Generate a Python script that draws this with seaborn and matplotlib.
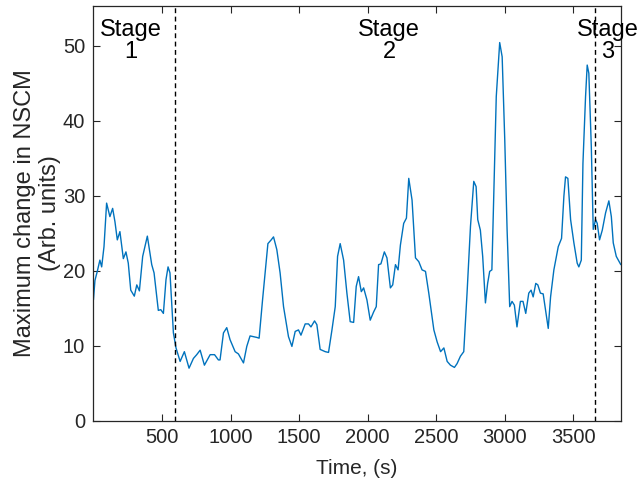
import numpy as np
import pandas as pd
import matplotlib
matplotlib.use("Agg")
import matplotlib.pyplot as plt
import seaborn as sns

# ---- data ----
time_s = [0, 11, 28, 47, 60, 77, 96, 120, 140, 157, 174, 193, 218, 237, 254, 272, 298, 316, 335, 359,
          393, 425, 442, 473, 491, 510, 529, 544, 558, 583, 602, 632, 663, 697, 729, 753, 778, 809, 851, 883,
          911, 923, 948, 972, 996, 1033, 1057, 1094, 1118, 1142, 1167, 1191, 1208, 1233, 1272, 1296, 1313, 1337, 1361, 1386,
          1422, 1447, 1471, 1495, 1513, 1544, 1568, 1586, 1612, 1629, 1653, 1690, 1714, 1739, 1763, 1780, 1799, 1824, 1848, 1872,
          1897, 1916, 1933, 1953, 1970, 1994, 2018, 2043, 2062, 2079, 2096, 2121, 2140, 2165, 2182, 2202, 2221, 2238, 2262, 2282,
          2299, 2323, 2348, 2372, 2396, 2421, 2445, 2482, 2506, 2531, 2555, 2579, 2603, 2632, 2651, 2676, 2700, 2724, 2749, 2773,
          2790, 2802, 2821, 2838, 2858, 2874, 2889, 2905, 2922, 2937, 2962, 2980, 2999, 3016, 3035, 3052, 3069, 3088, 3113, 3132,
          3152, 3174, 3191, 3206, 3225, 3240, 3259, 3279, 3296, 3316, 3333, 3357, 3389, 3413, 3430, 3442, 3459, 3479, 3503, 3527,
          3539, 3557, 3569, 3588, 3600, 3612, 3630, 3644, 3661, 3673, 3690, 3710, 3734, 3758, 3776, 3790, 3812, 3845]
nscm_change = [16.1, 18.7, 19.9, 21.4, 20.5, 23.2, 29.0, 27.2, 28.3, 26.5, 24.1, 25.2, 21.6, 22.5, 21.0, 17.4, 16.6, 18.1, 17.3, 21.9,
               24.6, 20.8, 19.7, 14.7, 14.8, 14.3, 18.8, 20.5, 19.7, 11.7, 9.7, 7.9, 9.2, 7.0, 8.3, 8.8, 9.4, 7.4, 8.8, 8.8,
               8.1, 8.1, 11.7, 12.4, 10.8, 9.2, 8.9, 7.7, 9.9, 11.3, 11.2, 11.1, 11.0, 16.1, 23.6, 24.1, 24.5, 22.8, 19.7, 15.2,
               11.2, 9.9, 11.9, 12.1, 11.4, 12.9, 12.9, 12.5, 13.3, 12.8, 9.5, 9.2, 9.1, 12.1, 15.2, 21.9, 23.6, 21.4, 17.0, 13.2,
               13.1, 17.9, 19.2, 17.2, 17.7, 16.1, 13.4, 14.5, 15.2, 20.8, 20.9, 22.5, 21.7, 17.7, 18.1, 20.8, 20.1, 23.4, 26.3, 27.0,
               32.3, 29.4, 21.7, 21.2, 20.1, 19.9, 17.0, 12.1, 10.5, 9.2, 9.7, 7.9, 7.4, 7.1, 7.6, 8.6, 9.2, 17.0, 25.9, 31.9,
               31.2, 26.8, 25.4, 21.9, 15.7, 18.3, 19.9, 20.1, 32.5, 43.2, 50.4, 48.5, 37.4, 25.4, 15.2, 15.9, 15.4, 12.5, 15.9, 15.9,
               14.3, 17.0, 17.4, 16.5, 18.3, 18.1, 17.0, 16.9, 14.8, 12.3, 16.5, 20.1, 23.2, 24.3, 29.9, 32.5, 32.3, 26.8, 23.7, 21.0,
               20.5, 21.4, 34.3, 43.2, 47.4, 46.3, 36.5, 25.5, 26.8, 26.3, 24.1, 25.4, 27.7, 29.3, 27.2, 23.7, 21.9, 20.8]
stage_bounds = [595, 3660]
stage_labels = ["Stage\n1", "Stage\n2", "Stage\n3"]
stage_label_x = [275, 2157, 3750]
x_ticks = [500, 1000, 1500, 2000, 2500, 3000, 3500]
y_ticks = [0, 10, 20, 30, 40, 50]

df = pd.DataFrame({"Time": time_s, "NSCM": nscm_change})

sns.set_style("white")
plt.rcParams["font.family"] = ["Liberation Sans", "DejaVu Sans"]
dark = "#262626"

fig = plt.figure(figsize=(6.4, 4.83), dpi=100)
ax = fig.add_axes([0.146, 0.129, 0.824, 0.859])

sns.lineplot(data=df, x="Time", y="NSCM", ax=ax, color="#0072BD", linewidth=1.0)

for xb in stage_bounds:
    ax.axvline(xb, color="black", linestyle=(0, (3.5, 2.5)), linewidth=1.0)

for lab, xp in zip(stage_labels, stage_label_x):
    ax.text(xp, 53.5, lab, ha="center", va="top", fontsize=17, color="black",
            linespacing=1.0, clip_on=False)

ax.set_xlim(0, 3845)
ax.set_ylim(0, 55.3)
ax.set_xticks(x_ticks)
ax.set_yticks(y_ticks)
ax.tick_params(axis="both", direction="in", length=5, width=0.8, colors=dark,
               labelsize=14.5, top=True, right=True, bottom=True, left=True)
ax.tick_params(axis="x", pad=5)
ax.tick_params(axis="y", pad=6)
for s in ax.spines.values():
    s.set_color(dark)
    s.set_linewidth(0.9)
    s.set_visible(True)

ax.set_xlabel("Time, (s)", fontsize=15, color=dark, labelpad=9)
ax.set_ylabel("Maximum change in NSCM\n(Arb. units)", fontsize=17, color=dark,
              linespacing=1.2, labelpad=1)

fig.savefig("out.png", dpi=100)
